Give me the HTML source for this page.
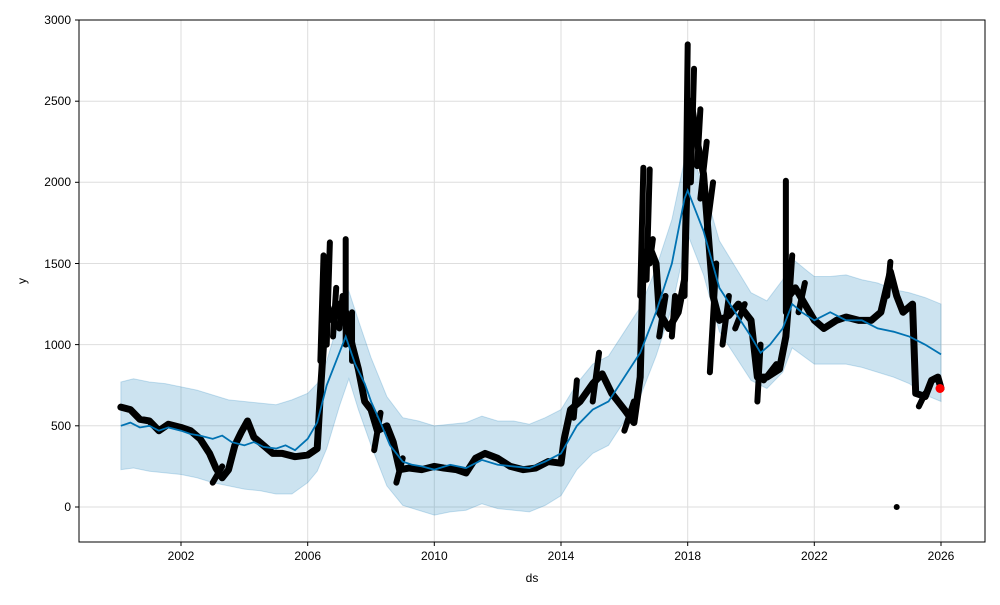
<!DOCTYPE html>
<html><head><meta charset="utf-8"><style>
body{margin:0;background:#fff;}
svg text{font-family:"Liberation Sans",sans-serif;font-size:12px;fill:#000;}
</style></head><body>
<svg width="1000" height="600" xmlns="http://www.w3.org/2000/svg">
<rect width="1000" height="600" fill="#fff"/>
<g stroke="#dedede" stroke-width="1">
<line x1="181" y1="20" x2="181" y2="542"/><line x1="307.7" y1="20" x2="307.7" y2="542"/>
<line x1="434.3" y1="20" x2="434.3" y2="542"/><line x1="561" y1="20" x2="561" y2="542"/>
<line x1="687.7" y1="20" x2="687.7" y2="542"/><line x1="814.3" y1="20" x2="814.3" y2="542"/>
<line x1="941" y1="20" x2="941" y2="542"/>
<line x1="79" y1="507" x2="985" y2="507"/><line x1="79" y1="425.8" x2="985" y2="425.8"/>
<line x1="79" y1="344.6" x2="985" y2="344.6"/><line x1="79" y1="263.5" x2="985" y2="263.5"/>
<line x1="79" y1="182.3" x2="985" y2="182.3"/><line x1="79" y1="101.2" x2="985" y2="101.2"/>
</g>
<g transform="matrix(31.6667 0 0 -0.16233 -63215.7 507)">
<polygon fill="#0072b2" fill-opacity="0.2" stroke="#0072b2" stroke-opacity="0.2" vector-effect="non-scaling-stroke" points="2000.1,770 2000.5,790 2001,770 2001.5,760 2002,740 2002.5,720 2003,690 2003.5,660 2004,650 2004.5,640 2005,630 2005.5,660 2006,700 2006.3,760 2006.6,900 2007,1160 2007.3,1330 2007.6,1150 2008,920 2008.5,680 2009,550 2009.5,530 2010,500 2010.5,510 2011,520 2011.5,560 2012,530 2012.5,530 2013,510 2013.5,550 2014,600 2014.5,760 2015,880 2015.5,930 2016,1080 2016.5,1230 2017,1470 2017.5,1770 2018,2230 2018.5,1980 2019,1640 2019.5,1480 2020,1320 2020.5,1270 2021,1400 2021.3,1530 2021.8,1450 2022,1420 2022.5,1420 2023,1430 2023.5,1400 2024,1380 2024.5,1340 2025,1320 2025.5,1290 2026,1250 2026,650 2025.5,690 2025,760 2024.5,800 2024,830 2023.5,860 2023,880 2022.5,880 2022,880 2021.3,980 2021,830 2020.5,730 2020,780 2019.5,930 2019,1080 2018.5,1430 2018,1680 2017.5,1230 2017,930 2016.5,680 2016,530 2015.5,380 2015,330 2014.5,230 2014,70 2013.5,10 2013,-30 2012.5,-20 2012,-10 2011.5,20 2011,-20 2010.5,-30 2010,-50 2009.5,-20 2009,10 2008.5,130 2008,380 2007.6,600 2007.3,790 2007,620 2006.6,360 2006.3,220 2006,150 2005.5,80 2005,80 2004.5,100 2004,110 2003.5,130 2003,150 2002.5,180 2002,200 2001.5,210 2001,220 2000.5,240 2000.1,230"/>
<g fill="none" stroke="#000" stroke-linejoin="round" stroke-linecap="round">
<polyline stroke-width="7" vector-effect="non-scaling-stroke" points="2000.1,615 2000.4,600 2000.7,540 2001,530 2001.3,470 2001.6,510 2002,490 2002.3,470 2002.6,420 2002.9,330 2003.1,240 2003.3,180 2003.5,230 2003.7,380 2003.9,460 2004.1,530 2004.3,430 2004.6,380 2004.9,330 2005.2,330 2005.6,310 2006,320 2006.3,360 2006.4,700 2006.5,1000 2006.6,1250 2006.8,1150 2007,1250 2007.2,1200 2007.4,1000 2007.6,850 2007.8,650 2008,600 2008.2,470 2008.5,500 2008.7,400 2008.9,230 2009.2,240 2009.6,230 2010,250 2010.3,240 2010.7,230 2011,210 2011.3,300 2011.6,330 2012,300 2012.4,250 2012.8,230 2013.2,240 2013.6,280 2014,270 2014.1,420 2014.3,600 2014.6,650 2015,760 2015.3,820 2015.6,700 2016,600 2016.3,520 2016.5,800 2016.6,1550 2016.8,1600 2017,1500 2017.1,1200 2017.4,1100 2017.7,1200 2017.9,1400 2018,2200 2018.1,2500 2018.3,2250 2018.5,2050 2018.6,1800 2018.8,1300 2019,1150 2019.3,1180 2019.6,1250 2020,1150 2020.2,800 2020.5,800 2020.9,850 2021.1,1050 2021.2,1300 2021.4,1350 2021.7,1250 2022,1150 2022.3,1100 2022.7,1150 2023,1170 2023.4,1150 2023.8,1150 2024.1,1200 2024.4,1450 2024.6,1300 2024.8,1200 2025.1,1250 2025.2,700 2025.5,680 2025.7,780 2025.9,800 2026,730"/>
<path stroke-width="6" vector-effect="non-scaling-stroke" d="M2006.4,900 L2006.5,1550 M2006.6,1000 L2006.7,1630 M2006.8,1050 L2006.9,1350 M2007,1100 L2007.1,1300 M2007.2,1000 L2007.2,1650 M2007.4,900 L2007.4,1200 M2016.5,1300 L2016.6,2090 M2016.7,1400 L2016.8,2080 M2016.8,1500 L2016.9,1650 M2017.1,1050 L2017.3,1300 M2017.5,1050 L2017.6,1300 M2017.9,1300 L2018,2850 M2018.1,2000 L2018.2,2700 M2018.3,2100 L2018.4,2450 M2018.4,1900 L2018.6,2250 M2018.6,1700 L2018.8,2000 M2018.7,830 L2018.9,1500 M2019.1,1000 L2019.3,1300 M2019.5,1100 L2019.8,1250 M2020.2,650 L2020.3,1000 M2020.4,780 L2020.8,880 M2021.1,1200 L2021.1,2010 M2021.2,1250 L2021.3,1550 M2021.5,1200 L2021.7,1380 M2016,470 L2016.3,650 M2015,650 L2015.2,950 M2014.4,550 L2014.5,780 M2008.1,350 L2008.3,580 M2008.8,150 L2009,300 M2003,150 L2003.3,250 M2024.3,1300 L2024.4,1510 M2025.3,620 L2025.5,700"/>
<path stroke-width="6" vector-effect="non-scaling-stroke" d="M2024.6,0 L2024.6,0"/>
</g>
<polyline fill="none" stroke="#0072b2" stroke-width="1.8" vector-effect="non-scaling-stroke" points="2000.1,500 2000.4,520 2000.7,490 2001,500 2001.3,470 2001.6,490 2002,470 2002.3,450 2002.6,440 2003,420 2003.3,440 2003.6,400 2004,380 2004.3,400 2004.6,370 2005,360 2005.3,380 2005.6,350 2006,420 2006.3,520 2006.6,750 2007,950 2007.2,1050 2007.5,880 2007.8,760 2008,650 2008.3,520 2008.6,380 2009,280 2009.3,260 2009.6,250 2010,230 2010.5,260 2011,240 2011.5,290 2012,260 2012.5,250 2013,240 2013.5,280 2014,330 2014.5,500 2015,600 2015.5,650 2016,800 2016.5,950 2017,1200 2017.5,1500 2017.9,1900 2018,1950 2018.3,1800 2018.5,1700 2019,1350 2019.5,1200 2020,1050 2020.3,950 2020.6,1000 2021,1100 2021.3,1250 2021.6,1200 2022,1150 2022.5,1200 2023,1150 2023.5,1150 2024,1100 2024.5,1080 2025,1050 2025.5,1000 2026,940"/>
</g>
<circle cx="940" cy="388.5" r="4.5" fill="#f00"/>
<rect x="79" y="20" width="906" height="522" fill="none" stroke="#000" stroke-width="1"/>
<g stroke="#000">
<line x1="181" y1="542" x2="181" y2="546"/><line x1="307.7" y1="542" x2="307.7" y2="546"/>
<line x1="434.3" y1="542" x2="434.3" y2="546"/><line x1="561" y1="542" x2="561" y2="546"/>
<line x1="687.7" y1="542" x2="687.7" y2="546"/><line x1="814.3" y1="542" x2="814.3" y2="546"/>
<line x1="941" y1="542" x2="941" y2="546"/>
<line x1="75" y1="507" x2="79" y2="507"/><line x1="75" y1="425.8" x2="79" y2="425.8"/>
<line x1="75" y1="344.6" x2="79" y2="344.6"/><line x1="75" y1="263.5" x2="79" y2="263.5"/>
<line x1="75" y1="182.3" x2="79" y2="182.3"/><line x1="75" y1="101.2" x2="79" y2="101.2"/>
<line x1="75" y1="20" x2="79" y2="20"/>
</g>
<g text-anchor="middle">
<text x="181" y="560">2002</text><text x="307.7" y="560">2006</text><text x="434.3" y="560">2010</text>
<text x="561" y="560">2014</text><text x="687.7" y="560">2018</text><text x="814.3" y="560">2022</text>
<text x="941" y="560">2026</text><text x="532" y="582">ds</text>
</g>
<g text-anchor="end">
<text x="71" y="511">0</text><text x="71" y="430">500</text><text x="71" y="349">1000</text>
<text x="71" y="268">1500</text><text x="71" y="186">2000</text><text x="71" y="105">2500</text>
<text x="71" y="24">3000</text>
</g>
<text transform="translate(26,281) rotate(-90)" text-anchor="middle">y</text>
</svg>
</body></html>
